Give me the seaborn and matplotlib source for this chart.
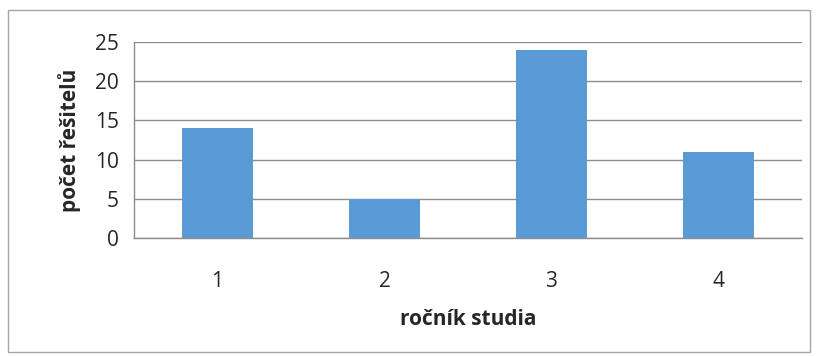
import matplotlib
matplotlib.use("Agg")
import matplotlib.pyplot as plt
from matplotlib.patches import Rectangle
import seaborn as sns
import pandas as pd
import numpy as np

# data
rocnik = ["1", "2", "3", "4"]
pocet = [14, 5, 24, 11]

df = pd.DataFrame({"rocnik": rocnik, "pocet": pocet})

sns.set_style("white")
plt.rcParams["font.family"] = ["Open Sans", "DejaVu Sans"]

fig = plt.figure(figsize=(8.16, 3.56), dpi=100)
ax = fig.add_axes([134 / 816, 118 / 356, 668 / 816, 196 / 356])

sns.barplot(data=df, x="rocnik", y="pocet", order=rocnik, color="#5B9BD5",
            saturation=1, width=0.42, linewidth=0, ax=ax)

grid_c = "#8C8C8C"
ax.set_ylim(0, 25)
ax.set_xlim(-0.5, len(rocnik) - 0.5)
ax.set_yticks(np.arange(0, 26, 5))
ax.yaxis.grid(True, color=grid_c, linewidth=1)
ax.set_axisbelow(True)

for s in ["top", "right"]:
    ax.spines[s].set_visible(False)
for s in ["left", "bottom"]:
    ax.spines[s].set_color(grid_c)
    ax.spines[s].set_linewidth(1)

# ticks at category boundaries, labels at centres
ax.set_xticks(np.arange(-0.5, len(rocnik), 1.0), minor=True)
ax.tick_params(axis="x", which="minor", length=8, width=1, color=grid_c, direction="out")
ax.tick_params(axis="x", which="major", length=0, pad=24, labelsize=15)
ax.tick_params(axis="y", length=7, width=1, color=grid_c, direction="out", pad=4, labelsize=15)

ax.set_xlabel("ročník studia", fontsize=15, fontweight="bold", labelpad=12)
ax.set_ylabel("počet řešitelů", fontsize=15, fontweight="bold", labelpad=10)

fig.add_artist(Rectangle((8 / 816, 4 / 356), 802 / 816, 342 / 356,
                         transform=fig.transFigure, fill=False,
                         edgecolor="#A6A6A6", linewidth=1))

fig.savefig("out.png", dpi=100)
